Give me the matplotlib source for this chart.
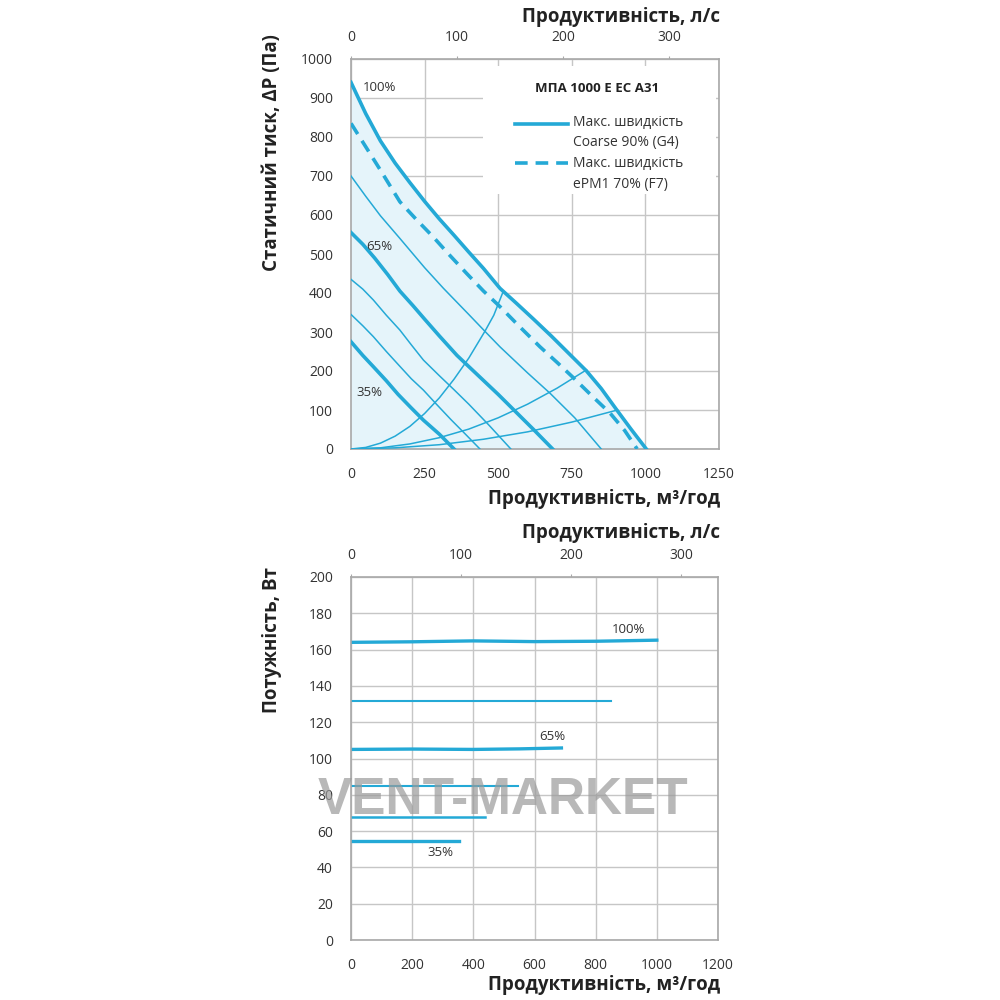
import numpy as np
import matplotlib.pyplot as plt
from matplotlib.lines import Line2D
from matplotlib.patches import Rectangle

plt.rcParams['font.family'] = ['Open Sans', 'DejaVu Sans']

BLUE = '#24a9d6'
FILL = '#e5f4fa'
GRID = '#c6c6c6'
TXT = '#333333'

# --- Тиск: витрата (м3/год) -> статичний тиск (Па) ---
q_100 = [0, 50, 100, 150, 200, 250, 300, 350, 400, 450, 506, 560, 620, 680, 740, 800, 850, 900, 950, 1003]
p_100 = [940, 860, 790, 733, 683, 635, 590, 548, 505, 463, 412, 375, 333, 290, 245, 200, 155, 103, 52, 0]

q_f7 = [0, 50, 100, 166, 220, 279, 335, 393, 450, 506, 575, 642, 700, 755, 820, 880, 930, 972]
p_f7 = [835, 775, 715, 634, 590, 544, 497, 450, 405, 365, 312, 262, 222, 183, 135, 92, 47, 0]

q_80 = [0, 50, 100, 166, 250, 314, 400, 461, 506, 600, 676, 760, 850]
p_80 = [700, 648, 598, 540, 465, 412, 345, 297, 262, 195, 143, 80, 0]

q_65 = [0, 40, 80, 125, 166, 210, 250, 300, 360, 430, 500, 560, 620, 685]
p_65 = [555, 525, 490, 447, 405, 368, 333, 290, 240, 190, 140, 95, 50, 0]

q_55 = [0, 40, 76, 120, 166, 205, 246, 300, 350, 400, 470, 543]
p_55 = [435, 410, 382, 343, 305, 267, 228, 188, 152, 115, 60, 0]

q_45 = [0, 40, 76, 120, 166, 205, 246, 290, 340, 390, 438]
p_45 = [345, 316, 288, 250, 212, 180, 151, 115, 75, 37, 0]

q_35 = [0, 40, 76, 120, 160, 205, 246, 300, 350]
p_35 = [275, 240, 211, 175, 140, 105, 74, 38, 0]

# характеристики мережі
q_s1 = [0, 50, 100, 150, 200, 250, 300, 350, 400, 455, 485, 516]
p_s1 = [0, 4, 15, 33, 58, 91, 131, 179, 233, 302, 343, 402]
q_s2 = [0, 100, 200, 300, 400, 500, 600, 700, 800]
p_s2 = [0, 3, 13, 29, 51, 80, 115, 156, 203]
q_s3 = [0, 150, 300, 450, 600, 750, 905]
p_s3 = [0, 3, 11, 25, 44, 69, 100]

# --- Потужність: витрата (м3/год) -> Вт ---
w_q100 = [0, 200, 400, 600, 800, 1000]
w_100 = [164, 164.3, 164.8, 164.4, 164.6, 165.2]
w_q80 = [0, 850]
w_80 = [131.8, 131.8]
w_q65 = [0, 200, 400, 550, 688]
w_65 = [105, 105.2, 105, 105.3, 105.8]
w_q55 = [0, 547]
w_55 = [84.6, 84.6]
w_q45 = [0, 438]
w_45 = [67.5, 67.5]
w_q35 = [0, 353]
w_35 = [54.5, 54.5]

fig = plt.figure(figsize=(10, 10), dpi=100)
ax1 = fig.add_axes([0.351, 0.551, 0.368, 0.39])
ax2 = fig.add_axes([0.351, 0.06, 0.367, 0.363])


def to_ls(q):
    return np.asarray(q) / 3.6


def to_m3h(l):
    return np.asarray(l) * 3.6


def style(ax, xt, yt):
    ax.set_xticks(xt)
    ax.set_yticks(yt)
    ax.set_xlim(xt[0], xt[-1])
    ax.set_ylim(yt[0], yt[-1])
    ax.grid(True, color=GRID, lw=1)
    ax.set_axisbelow(True)
    for s in ax.spines.values():
        s.set_color('#a8a8a8')
        s.set_linewidth(1.2)
    ax.tick_params(length=0, labelsize=10, colors=TXT, pad=13)
    sec = ax.secondary_xaxis('top', functions=(to_ls, to_m3h))
    sec.set_xticks([0, 100, 200, 300])
    sec.tick_params(length=2.5, width=0.8, color='#a8a8a8', labelsize=10,
                    labelcolor=TXT, pad=7.5)
    sec.spines['top'].set_visible(False)


# ---------- верхній графік ----------
style(ax1, [0, 250, 500, 750, 1000, 1250], list(range(0, 1001, 100)))
ax1.fill_between(q_100, p_100, 0, color=FILL, zorder=1)

ax1.plot(q_100, p_100, color=BLUE, lw=2.6, zorder=3)
ax1.plot(q_f7, p_f7, color=BLUE, lw=2.6, ls=(0, (3.5, 2.2)), zorder=3)
ax1.plot(q_80, p_80, color=BLUE, lw=1.1, zorder=3)
ax1.plot(q_65, p_65, color=BLUE, lw=2.6, zorder=3)
ax1.plot(q_55, p_55, color=BLUE, lw=1.1, zorder=3)
ax1.plot(q_45, p_45, color=BLUE, lw=1.1, zorder=3)
ax1.plot(q_35, p_35, color=BLUE, lw=2.6, zorder=3)
for q, p in [(q_s1, p_s1), (q_s2, p_s2), (q_s3, p_s3)]:
    ax1.plot(q, p, color=BLUE, lw=1.1, zorder=3)

ax1.text(41, 928, '100%', fontsize=9.5, color=TXT, va='center', zorder=4)
ax1.text(51, 520, '65%', fontsize=9.5, color=TXT, va='center', zorder=4)
ax1.text(20, 144, '35%', fontsize=9.5, color=TXT, va='center', zorder=4)

# легенда
ax1.add_patch(Rectangle((0.358, 0.655), 0.635, 0.327, transform=ax1.transAxes,
                        facecolor='white', edgecolor='none', zorder=2))
ax1.text(0.67, 0.925, 'МПА 1000 Е ЕС А31', transform=ax1.transAxes,
         fontsize=9.5, fontweight='bold', color='#222222', ha='center', va='center', zorder=4)
ax1.add_line(Line2D([0.445, 0.59], [0.833, 0.833], transform=ax1.transAxes,
                    color=BLUE, lw=2.6, zorder=4))
ax1.add_line(Line2D([0.445, 0.59], [0.733, 0.733], transform=ax1.transAxes,
                    color=BLUE, lw=2.6, ls=(0, (3.5, 2.2)), zorder=4))
ax1.text(0.603, 0.836, 'Макс. швидкість', transform=ax1.transAxes,
         fontsize=10, color=TXT, va='center', zorder=4)
ax1.text(0.603, 0.786, 'Coarse 90% (G4)', transform=ax1.transAxes,
         fontsize=10, color=TXT, va='center', zorder=4)
ax1.text(0.603, 0.733, 'Макс. швидкість', transform=ax1.transAxes,
         fontsize=10, color=TXT, va='center', zorder=4)
ax1.text(0.603, 0.678, 'ePM1 70% (F7)', transform=ax1.transAxes,
         fontsize=10, color=TXT, va='center', zorder=4)

# ---------- нижній графік ----------
style(ax2, list(range(0, 1201, 200)), list(range(0, 201, 20)))
ax2.plot(w_q100, w_100, color=BLUE, lw=2.4)
ax2.plot(w_q80, w_80, color=BLUE, lw=1.5)
ax2.plot(w_q65, w_65, color=BLUE, lw=2.4)
ax2.plot(w_q55, w_55, color=BLUE, lw=1.5)
ax2.plot(w_q45, w_45, color=BLUE, lw=1.8)
ax2.plot(w_q35, w_35, color=BLUE, lw=2.4)
ax2.text(906, 171, '100%', fontsize=9.5, color=TXT, ha='center', va='center')
ax2.text(657, 112, '65%', fontsize=9.5, color=TXT, ha='center', va='center')
ax2.text(291, 48, '35%', fontsize=9.5, color=TXT, ha='center', va='center')

# підписи осей
lab = dict(fontsize=13.5, fontweight='bold', color='#222222')
fig.text(0.72, 0.983, 'Продуктивність, л/с', ha='right', va='center', **lab)
fig.text(0.72, 0.501, 'Продуктивність, м³/год', ha='right', va='center', **lab)
fig.text(0.72, 0.467, 'Продуктивність, л/с', ha='right', va='center', **lab)
fig.text(0.72, 0.015, 'Продуктивність, м³/год', ha='right', va='center', **lab)
fig.text(0.272, 0.847, 'Статичний тиск, ΔP (Па)', rotation=90,
         ha='center', va='center', **lab)
fig.text(0.272, 0.36, 'Потужність, Вт', rotation=90,
         ha='center', va='center', **lab)

# водяний знак
fig.text(0.503, 0.2, 'VENT-MARKET', fontsize=37, fontweight='bold',
         family=['Liberation Sans', 'DejaVu Sans'], color='#9a9a9a', alpha=0.7,
         ha='center', va='center', zorder=10)

fig.savefig('out.png', dpi=100)
